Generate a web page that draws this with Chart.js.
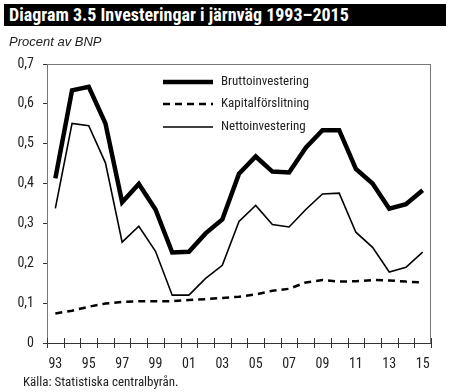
<!DOCTYPE html>
<html>
<head>
<meta charset="utf-8">
<script src="https://cdn.jsdelivr.net/npm/chart.js@4"></script>
<style>
  body { margin: 0; background: #fff; }
  #wrap { position: relative; width: 450px; height: 392px; }
  #chart { position: absolute; left: 0; top: 0; }
  .title { position: absolute; left: 4px; top: 4px; width: 442px; height: 22px; background: #000; color: #fff;
           font: bold 18px "Roboto Condensed", "DejaVu Sans Condensed", sans-serif; line-height: 22px; padding-left: 5px; box-sizing: border-box; }
  .sub { position: absolute; left: 9px; top: 34px; font: italic 13px "Liberation Sans", Arial, sans-serif; color: #222; }
  .src { position: absolute; left: 23px; top: 374px; font: 13px "Roboto Condensed", "DejaVu Sans Condensed", sans-serif; color: #222; }
</style>
</head>
<body>
<div id="wrap">
  <canvas id="chart" width="450" height="392"></canvas>
  <div class="title">Diagram 3.5 Investeringar i järnväg 1993–2015</div>
  <div class="sub">Procent av BNP</div>
  <div class="src">Källa: Statistiska centralbyrån.</div>
</div>
<script>
const years = ['93','94','95','96','97','98','99','00','01','02','03','04','05','06','07','08','09','10','11','12','13','14','15'];

const brutto = [0.413, 0.634, 0.643, 0.551, 0.353, 0.399, 0.335, 0.227, 0.229, 0.275, 0.31, 0.425, 0.468, 0.43, 0.428, 0.49, 0.534, 0.534, 0.437, 0.40, 0.337, 0.348, 0.383];
const kapital = [0.074, 0.081, 0.091, 0.099, 0.103, 0.105, 0.105, 0.105, 0.108, 0.110, 0.113, 0.116, 0.122, 0.131, 0.136, 0.152, 0.158, 0.154, 0.155, 0.158, 0.157, 0.154, 0.152];
const netto = [0.338, 0.551, 0.545, 0.452, 0.253, 0.293, 0.23, 0.12, 0.12, 0.162, 0.195, 0.305, 0.345, 0.297, 0.291, 0.335, 0.374, 0.376, 0.278, 0.24, 0.178, 0.19, 0.228];

const seriesNames = ['Bruttoinvestering', 'Kapitalförslitning', 'Nettoinvestering'];

const narrow = '"Roboto Condensed", "DejaVu Sans Condensed", sans-serif';

// frame, crossing x ticks and the legend inside the plot
const framePlugin = {
    id: 'frame',
    afterDraw(chart) {
        const { ctx, chartArea: a, scales } = chart;
        ctx.save();
        ctx.strokeStyle = '#777';
        ctx.lineWidth = 1;
        ctx.strokeRect(a.left + 0.5, a.top + 0.5, a.right - a.left - 1, a.bottom - a.top);
        // x ticks across the axis
        const x = scales.x;
        const step = x.getPixelForTick(1) - x.getPixelForTick(0);
        ctx.strokeStyle = '#333';
        for (let i = 0; i <= years.length; i++) {
            const px = Math.round(x.getPixelForTick(0) - step / 2 + i * step) + 0.5;
            ctx.beginPath();
            ctx.moveTo(px, a.bottom - 5);
            ctx.lineTo(px, a.bottom + 5);
            ctx.stroke();
        }
        ctx.beginPath();
        ctx.moveTo(a.left, a.bottom + 0.5);
        ctx.lineTo(a.right, a.bottom + 0.5);
        ctx.stroke();

        // legend
        const lx = 163, lw = 50;
        const rows = [82, 104, 127];
        chart.data.datasets.forEach((ds, i) => {
            ctx.strokeStyle = '#000';
            ctx.lineWidth = ds.borderWidth;
            ctx.setLineDash(ds.borderDash || []);
            ctx.beginPath();
            ctx.moveTo(lx, rows[i]);
            ctx.lineTo(lx + lw, rows[i]);
            ctx.stroke();
            ctx.setLineDash([]);
            ctx.fillStyle = '#222';
            ctx.font = '13px ' + narrow;
            ctx.textBaseline = 'middle';
            ctx.fillText(ds.label, lx + lw + 8, rows[i]);
        });
        ctx.restore();
    }
};

new Chart(document.getElementById('chart'), {
    type: 'line',
    data: {
        labels: years,
        datasets: [
            { label: seriesNames[0], data: brutto, borderColor: '#000', borderWidth: 4.5, pointRadius: 0, tension: 0 },
            { label: seriesNames[1], data: kapital, borderColor: '#000', borderWidth: 2.5, borderDash: [7, 5], pointRadius: 0, tension: 0 },
            { label: seriesNames[2], data: netto, borderColor: '#000', borderWidth: 1.6, pointRadius: 0, tension: 0 }
        ]
    },
    options: {
        responsive: false,
        animation: false,
        layout: { padding: { top: 64, right: 19, left: 0, bottom: 0 } },
        plugins: { legend: { display: false }, tooltip: { enabled: false } },
        scales: {
            x: {
                type: 'category',
                offset: true,
                grid: { display: false, offset: true },
                border: { display: false },
                afterFit: s => { s.height = 49; },
                ticks: {
                    autoSkip: false,
                    maxRotation: 0,
                    padding: 5,
                    color: '#222',
                    font: { family: narrow, size: 14 },
                    callback: (v, i) => (i % 2 === 0 ? years[i] : '')
                }
            },
            y: {
                min: 0,
                max: 0.7,
                afterFit: s => { s.width = 47; },
                grid: { drawOnChartArea: false, tickLength: 4, color: '#333' },
                border: { color: '#777' },
                ticks: {
                    stepSize: 0.1,
                    padding: 9,
                    color: '#222',
                    font: { family: narrow, size: 14 },
                    callback: v => (v === 0 ? '0' : v.toFixed(1).replace('.', ','))
                }
            }
        }
    },
    plugins: [framePlugin]
});
</script>
</body>
</html>
